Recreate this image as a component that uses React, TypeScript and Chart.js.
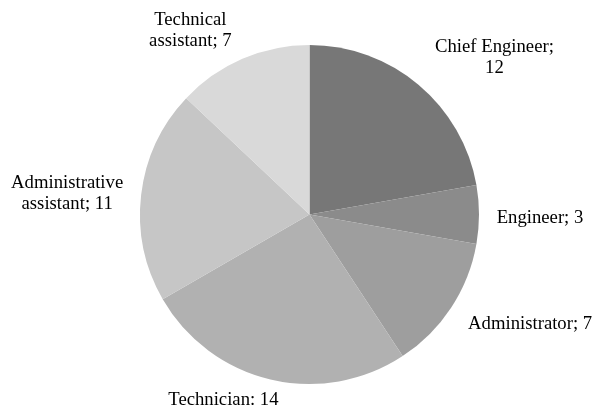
import React, { useEffect, useRef } from "react";
import { Chart, registerables } from "chart.js";

Chart.register(...registerables);

const categories = [
  "Chief Engineer",
  "Engineer",
  "Administrator",
  "Technician",
  "Administrative assistant",
  "Technical assistant",
];
const values = [12, 3, 7, 14, 11, 7];
// separators between name and value as printed in the reference
const separators = ["; ", "; ", "; ", ": ", "; ", "; "];
const colors = ["#777777", "#8b8b8b", "#9e9e9e", "#b1b1b1", "#c6c6c6", "#d9d9d9"];
// label offsets (px) relative to the slice's outer mid-point
const labelOffsets: [number, number][] = [
  [76, -33],
  [61, 8.5],
  [79, 21.5],
  [-47, 25.5],
  [-74, -6.5],
  [-52, -34],
];

const FONT = '18.7px "Liberation Serif", "Times New Roman", serif';
const LINE_H = 21;
const WRAP = 136;

function wrapText(ctx: CanvasRenderingContext2D, text: string, max: number): string[] {
  const words = text.split(" ");
  const lines: string[] = [];
  let cur = "";
  for (const w of words) {
    const test = cur ? cur + " " + w : w;
    if (cur && ctx.measureText(test).width > max) {
      lines.push(cur);
      cur = w;
    } else cur = test;
  }
  if (cur) lines.push(cur);
  return lines;
}

const labelPlugin = {
  id: "outsideLabels",
  afterDraw(chart: any) {
    const ctx: CanvasRenderingContext2D = chart.ctx;
    const meta = chart.getDatasetMeta(0);
    ctx.save();
    ctx.font = FONT;
    ctx.fillStyle = "#000000";
    ctx.textAlign = "center";
    ctx.textBaseline = "alphabetic";
    meta.data.forEach((arc: any, i: number) => {
      const mid = (arc.startAngle + arc.endAngle) / 2;
      const px = arc.x + Math.cos(mid) * arc.outerRadius;
      const py = arc.y + Math.sin(mid) * arc.outerRadius;
      const [dx, dy] = labelOffsets[i];
      const text = categories[i] + separators[i] + values[i];
      const lines = wrapText(ctx, text, WRAP);
      lines.forEach((ln, j) => {
        ctx.fillText(ln, px + dx, py + dy + j * LINE_H);
      });
    });
    ctx.restore();
  },
};

export default function App() {
  const ref = useRef<HTMLCanvasElement>(null);
  useEffect(() => {
    if (!ref.current) return;
    const chart = new Chart(ref.current, {
      type: "pie",
      data: {
        labels: categories,
        datasets: [
          {
            data: values,
            backgroundColor: colors,
            borderWidth: 0,
          },
        ],
      },
      options: {
        responsive: false,
        animation: false,
        devicePixelRatio: 1,
        layout: { padding: { top: 45, bottom: 25, left: 140, right: 122 } },
        plugins: {
          legend: { display: false },
          tooltip: { enabled: false },
          title: { display: false },
        },
      },
      plugins: [labelPlugin],
    });
    return () => chart.destroy();
  }, []);
  return (
    <div style={{ position: "absolute", left: 0, top: 0, width: 601, height: 409, background: "#fff" }}>
      <canvas ref={ref} width={601} height={409} style={{ display: "block" }} />
    </div>
  );
}
